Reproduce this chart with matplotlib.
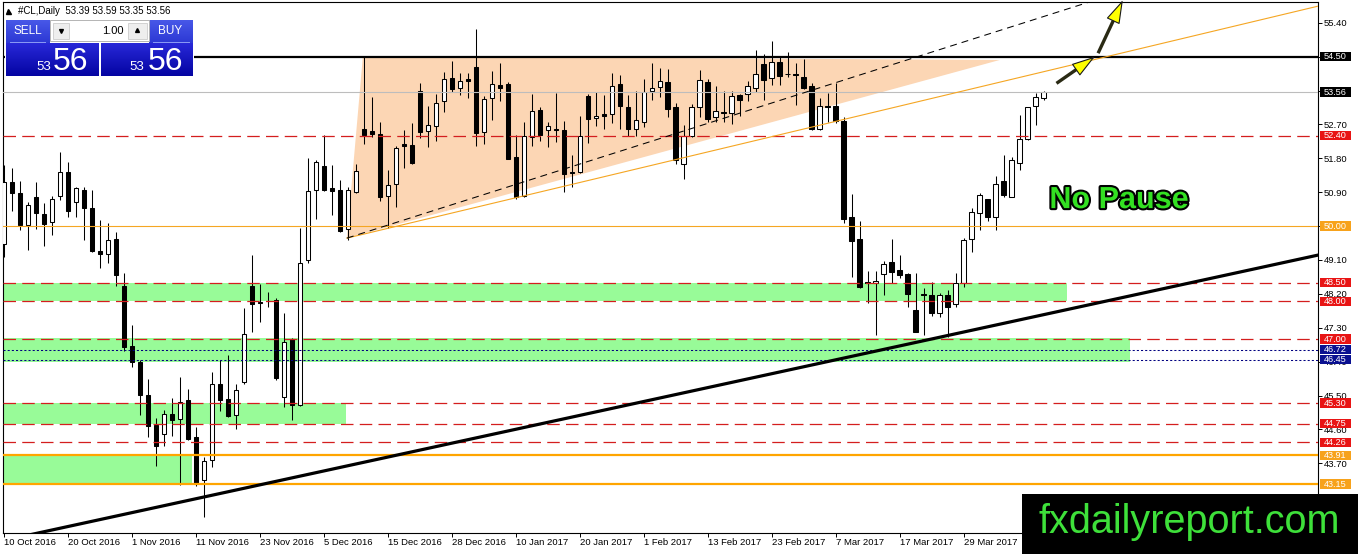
import matplotlib
matplotlib.use("Agg")
import matplotlib.pyplot as plt
import numpy as np
from matplotlib.patches import Rectangle, Polygon
import matplotlib.transforms as mtransforms
import matplotlib.patheffects as pe
from matplotlib.colors import LinearSegmentedColormap

plt.rcParams['font.family'] = ['Liberation Sans', 'DejaVu Sans']
plt.rcParams['lines.scale_dashes'] = False

# ---------------- data ----------------
symbol = "#CL,Daily"

opens = [49.52, 51.16, 50.89, 50.03, 50.77, 50.32, 50.10, 50.81, 51.43, 50.65,
         50.96, 50.47, 49.34, 49.25, 49.66, 48.41, 46.82, 46.38, 45.52, 44.71,
         44.48, 45.01, 44.87, 45.37, 44.40, 43.26, 43.79, 45.80, 45.40, 44.99,
         45.87, 48.41, 47.98, 48.02, 48.04, 45.47, 47.01, 45.25, 49.09, 50.96,
         51.60, 51.01, 50.96, 49.91, 50.91, 52.59, 52.52, 52.44, 50.81, 51.11,
         52.17, 52.15, 53.58, 52.53, 52.66, 53.32, 53.92, 53.66, 53.90, 54.23,
         52.51, 53.39, 53.74, 53.76, 51.84, 50.81, 52.37, 53.08, 52.55, 52.56,
         52.55, 51.43, 51.44, 53.45, 52.86, 52.97, 52.97, 53.76, 53.15, 52.59,
         52.77, 53.59, 53.68, 53.82, 53.15, 51.66, 52.39, 53.15, 53.83, 52.90,
         53.02, 53.01, 53.48, 53.50, 53.66, 54.30, 53.92, 54.35, 54.05, 54.04,
         53.95, 53.72, 52.59, 53.20, 53.19, 52.80, 50.23, 49.65, 48.50, 48.50,
         48.72, 49.05, 48.83, 48.73, 47.77, 48.19, 48.17, 47.68, 48.17, 47.92,
         48.50, 49.66, 50.34, 50.71, 50.23, 51.20, 50.78, 51.68, 52.30, 53.20,
         53.39]
highs = [51.63, 51.54, 51.19, 50.63, 51.17, 50.61, 50.80, 51.96, 51.71, 51.05,
         51.05, 50.96, 50.15, 50.08, 49.84, 48.75, 47.38, 46.45, 45.94, 44.90,
         45.12, 45.43, 45.99, 45.67, 44.66, 43.88, 46.12, 46.45, 46.58, 45.80,
         47.82, 49.24, 48.46, 48.26, 48.09, 47.70, 47.02, 49.94, 51.80, 51.76,
         52.42, 51.63, 51.23, 51.05, 51.66, 54.51, 53.42, 52.77, 51.49, 52.12,
         52.55, 52.74, 53.81, 53.19, 53.51, 54.10, 54.38, 54.07, 54.07, 55.22,
         53.45, 54.12, 54.32, 53.83, 52.42, 52.77, 53.51, 53.15, 52.77, 53.54,
         52.80, 51.89, 52.92, 53.51, 53.57, 53.48, 54.07, 54.01, 53.48, 53.59,
         53.90, 54.34, 54.21, 54.16, 53.26, 52.68, 53.23, 54.14, 53.90, 53.72,
         53.59, 53.59, 53.51, 53.86, 54.67, 54.58, 54.92, 54.48, 54.61, 54.34,
         54.43, 53.81, 53.39, 53.54, 53.79, 52.90, 50.85, 50.14, 48.82, 48.81,
         49.06, 49.66, 49.23, 48.75, 48.76, 48.35, 48.52, 48.22, 48.30, 48.75,
         49.68, 50.47, 50.89, 50.71, 51.33, 51.89, 51.83, 52.95, 53.15, 53.53,
         53.59]
lows = [49.17, 50.41, 49.90, 49.37, 49.92, 49.48, 49.77, 50.70, 50.25, 50.23,
        49.64, 49.30, 48.90, 49.03, 48.42, 46.67, 46.25, 44.99, 44.41, 43.62,
        44.15, 44.43, 43.13, 44.32, 43.10, 42.27, 43.59, 45.08, 44.92, 44.61,
        45.80, 47.20, 47.44, 47.85, 45.92, 45.19, 44.86, 45.23, 49.01, 50.18,
        50.94, 50.30, 49.83, 49.63, 50.87, 52.18, 52.36, 50.67, 49.94, 50.51,
        51.53, 51.66, 52.33, 52.09, 52.27, 53.04, 53.57, 53.48, 53.41, 52.12,
        52.17, 52.82, 53.33, 51.77, 50.71, 50.78, 52.12, 52.27, 52.11, 52.24,
        50.91, 51.05, 51.42, 52.21, 52.66, 52.57, 52.73, 52.59, 52.39, 52.39,
        52.64, 53.36, 53.42, 52.90, 51.65, 51.24, 52.37, 52.90, 52.77, 52.77,
        52.77, 52.70, 52.92, 53.33, 53.57, 53.36, 53.74, 53.74, 53.95, 53.21,
        53.63, 52.55, 52.55, 52.77, 52.73, 50.07, 48.64, 48.35, 47.95, 47.11,
        48.17, 48.50, 48.61, 47.86, 47.20, 47.11, 47.60, 47.58, 47.06, 47.84,
        48.39, 49.30, 49.90, 50.14, 49.90, 50.76, 50.78, 51.49, 52.29, 52.68,
        53.35]
closes = [51.16, 50.87, 50.03, 50.56, 50.34, 50.06, 50.71, 51.43, 50.39, 51.01,
          50.49, 49.33, 49.25, 49.64, 48.69, 46.80, 46.38, 45.52, 44.68, 44.15,
          45.01, 44.86, 45.34, 44.34, 43.16, 43.75, 45.80, 45.39, 44.96, 45.65,
          47.13, 47.93, 47.95, 48.00, 45.96, 46.91, 45.25, 49.01, 50.94, 51.70,
          50.96, 50.92, 49.86, 50.97, 51.47, 52.42, 52.44, 50.78, 51.09, 52.06,
          52.13, 51.68, 52.51, 52.68, 53.26, 53.90, 53.64, 53.85, 53.86, 52.48,
          53.37, 53.77, 53.67, 51.77, 50.78, 52.39, 53.05, 52.42, 52.66, 52.55,
          51.38, 51.40, 52.39, 52.83, 52.93, 52.93, 53.72, 53.19, 52.57, 52.81,
          53.55, 53.66, 53.86, 53.10, 51.75, 52.39, 53.15, 53.88, 52.83, 53.05,
          52.99, 53.46, 53.35, 53.72, 54.04, 53.88, 54.36, 53.99, 54.03, 54.01,
          53.66, 52.59, 53.20, 53.17, 52.79, 50.20, 49.61, 48.37, 48.49, 48.54,
          49.00, 48.79, 48.70, 48.19, 47.20, 48.16, 47.70, 48.17, 47.86, 48.48,
          49.63, 50.37, 50.83, 50.25, 51.12, 50.83, 51.75, 52.30, 53.15, 53.42,
          53.56]

date_labels = ["10 Oct 2016", "20 Oct 2016", "1 Nov 2016", "11 Nov 2016",
               "23 Nov 2016", "5 Dec 2016", "15 Dec 2016", "28 Dec 2016",
               "10 Jan 2017", "20 Jan 2017", "1 Feb 2017", "13 Feb 2017",
               "23 Feb 2017", "7 Mar 2017", "17 Mar 2017", "29 Mar 2017"]
date_tick_idx = [0, 8, 16, 24, 32, 40, 48, 56, 64, 72, 80, 88, 96, 104, 112, 120]

price_ticks = [55.40, 54.50, 53.60, 52.70, 51.80, 50.90, 50.00, 49.10, 48.20,
               47.30, 46.40, 45.50, 44.60, 43.70, 42.80]

resistance_level = 54.50
red_levels = [52.40, 48.50, 48.00, 47.00, 45.30, 44.75, 44.26]
orange_thin_levels = [50.00]
orange_thick_levels = [43.91, 43.15]
blue_levels = [46.72, 46.45]

# green zones: right end (bar index), top, bottom
zone_ends = [132.9, 140.8, 42.8, 23.5]
zone_tops = [48.50, 47.02, 45.30, 43.91]
zone_bottoms = [48.00, 46.40, 44.75, 43.15]

# triangle (bar index, price)
tri_idx = [42.9, 44.9, 124.5]
tri_px = [49.68, 54.51, 54.41]

# trend lines: two anchor points each
support_idx = [4.3, 164.3]
support_px = [41.85, 49.23]
lower_idx = [42.9, 164.3]
lower_px = [49.68, 55.84]
upper_idx = [42.9, 135.7]
upper_px = [49.68, 55.95]

# arrows (tail -> tip)
arrow_tail_idx = [131.6, 136.8]
arrow_tail_px = [53.79, 54.59]
arrow_tip_idx = [136.4, 139.9]
arrow_tip_px = [54.50, 56.00]

note_text = "No Pause"
note_idx, note_px = 139.4, 50.69

# ---------------- figure ----------------
W, H = 1358, 554
fig = plt.figure(figsize=(W / 100, H / 100), dpi=100)
fig.patch.set_facecolor('white')
ax = fig.add_axes([3 / W, (H - 533) / H, 1315 / W, 531 / H])
ax.set_facecolor('white')
ax.set_xlim(-0.09, 164.29)
ax.set_ylim(41.85, 55.95)
for s in ax.spines.values():
    s.set_linewidth(0.8)
    s.set_color('black')

GREEN = '#98FB98'
PEACH = '#FCD6B4'
RED = '#D41E1E'
ORANGE = '#F5A623'
NAVY = '#000080'

# zones
for xe, top, bot in zip(zone_ends, zone_tops, zone_bottoms):
    ax.add_patch(Rectangle((-1, bot), xe + 1, top - bot, facecolor=GREEN,
                           edgecolor='none', zorder=1))

# triangle
ax.add_patch(Polygon(list(zip(tri_idx, tri_px)), closed=True, facecolor=PEACH,
                     edgecolor='none', zorder=1.5))

# candles
o = np.array(opens); h = np.array(highs); l = np.array(lows); c = np.array(closes)
x = np.arange(len(o))
ax.vlines(x, l, h, color='black', lw=0.75, zorder=4)
bottoms = np.minimum(o, c)
heights = np.maximum(np.abs(c - o), 0.015)
cols = np.where(c >= o, 'white', 'black')
ax.bar(x, heights, bottom=bottoms, width=0.55, color=cols, edgecolor='black',
       linewidth=0.75, zorder=5)

# horizontal levels
ax.axhline(closes[-1], color='#BDBDBD', lw=0.8, zorder=6)
ax.axhline(resistance_level, color='black', lw=1.6, zorder=6)
for lv in red_levels:
    ax.axhline(lv, color=RED, lw=0.9, linestyle=(0, (9, 4.5)), zorder=6)
for lv in orange_thin_levels:
    ax.axhline(lv, color=ORANGE, lw=0.8, zorder=6)
for lv in orange_thick_levels:
    ax.axhline(lv, color='#FFA500', lw=1.6, zorder=6)
for lv in blue_levels:
    ax.axhline(lv, color=NAVY, lw=0.75, linestyle=(0, (1.5, 1.5)), zorder=6)


def ray(xs, ys, x_start, x_end):
    slope = (ys[1] - ys[0]) / (xs[1] - xs[0])
    return [x_start, x_end], [ys[0] + slope * (x_start - xs[0]),
                              ys[0] + slope * (x_end - xs[0])]


rx, ry = ray(support_idx, support_px, -2, 170)
ax.plot(rx, ry, color='black', lw=2.3, zorder=7, solid_capstyle='butt')
rx, ry = ray(lower_idx, lower_px, lower_idx[0], 170)
ax.plot(rx, ry, color=ORANGE, lw=0.8, zorder=7)
rx, ry = ray(upper_idx, upper_px, upper_idx[0], 170)
ax.plot(rx, ry, color='black', lw=0.75, linestyle=(0, (5, 3.6)), zorder=7)

# arrows
for tx, ty, hx, hy in zip(arrow_tail_idx, arrow_tail_px, arrow_tip_idx, arrow_tip_px):
    fx = tx + 0.68 * (hx - tx)
    fy = ty + 0.68 * (hy - ty)
    ax.plot([tx, fx], [ty, fy], color='#2A2A14', lw=2.4, zorder=8,
            solid_capstyle='butt', clip_on=False)
    ax.annotate('', xy=(hx, hy), xytext=(fx - 0.02 * (hx - tx), fy - 0.02 * (hy - ty)),
                arrowprops=dict(arrowstyle='-|>,head_length=1.5,head_width=0.46',
                                lw=0.8, edgecolor='#1A1A1A', facecolor='#FFFF00',
                                shrinkA=0, shrinkB=0),
                annotation_clip=False, zorder=9)

# note text
ax.text(note_idx, note_px, note_text, ha='center', va='center', fontsize=22,
        fontweight='bold', color='#33E022', zorder=10,
        path_effects=[pe.withStroke(linewidth=3, foreground='black')])

# axes ticks
ax.yaxis.tick_right()
ax.set_yticks(price_ticks)
ax.set_yticklabels([f"{p:.2f}" for p in price_ticks])
ax.tick_params(axis='y', direction='out', length=3, width=0.7, pad=1.2,
               labelsize=6.8, colors='black')
ax.set_xticks(date_tick_idx)
ax.set_xticklabels(date_labels, ha='left')
ax.tick_params(axis='x', direction='out', length=3, width=0.7, pad=0.8,
               labelsize=6.8, colors='black')
for lab in ax.get_xticklabels():
    lab.set_horizontalalignment('left')

# right-side price boxes
trans = mtransforms.blended_transform_factory(ax.transAxes, ax.transData)
bw = 31 / 1315
bx = 1 + 2 / 1315
bh = 9.3 / 37.67
boxes = [(resistance_level, 'black'), (closes[-1], 'black')]
boxes += [(lv, '#E81414') for lv in red_levels]
boxes += [(lv, '#F7A21B') for lv in orange_thin_levels + orange_thick_levels]
boxes += [(lv, '#0A1090') for lv in blue_levels]
for val, col in boxes:
    ax.add_patch(Rectangle((bx, val - bh / 2), bw, bh, transform=trans,
                           facecolor=col, edgecolor='none', clip_on=False, zorder=20))
    ax.text(bx + bw / 2, val, f"{val:.2f}", transform=trans, ha='center',
            va='center', color='white', fontsize=6.6, zorder=21, clip_on=False)

# ---------------- overlay: title, trade panel, watermark ----------------
ov = fig.add_axes([0, 0, 1, 1], zorder=10)
ov.set_xlim(0, W)
ov.set_ylim(H, 0)
ov.axis('off')
ov.patch.set_alpha(0)


def grad(x0, y0, x1, y1, ctop, cbot):
    cmap = LinearSegmentedColormap.from_list('g', [ctop, cbot])
    arr = np.linspace(0, 1, 64).reshape(-1, 1)
    ov.imshow(arr, cmap=cmap, extent=(x0, x1, y1, y0), aspect='auto',
              interpolation='bilinear', zorder=2)


title_vals = f"{opens[-1]:.2f} {highs[-1]:.2f} {lows[-1]:.2f} {closes[-1]:.2f}"
ov.plot([8.3], [11.2], marker='^', ms=3.6, color='black', zorder=3)
ov.text(18, 11.2, f"{symbol}  {title_vals}", ha='left', va='center',
        fontsize=7, color='black', zorder=3)

ov.add_patch(Rectangle((5, 19), 189, 58, facecolor='white', edgecolor='none', zorder=1))
# SELL
grad(6, 20, 50, 43, '#4858E8', '#2C38D4')
grad(6, 43, 99, 76, '#2828D8', '#0404A2')
# BUY
grad(149, 20, 193, 43, '#4858E8', '#2C38D4')
grad(101, 43, 193, 76, '#2828D8', '#0404A2')
ov.plot([10, 45], [41.8, 41.8], color='#8C9CF6', lw=0.7, zorder=3)
ov.plot([153, 189], [41.8, 41.8], color='#8C9CF6', lw=0.7, zorder=3)
ov.text(27.5, 31, "SELL", ha='center', va='center', fontsize=8.5, color='white', zorder=3)
ov.text(170.5, 31, "BUY", ha='center', va='center', fontsize=8.5, color='white', zorder=3)

# lot spinner
ov.add_patch(Rectangle((50, 20), 98.5, 20.5, facecolor='white', edgecolor='#B4B4B4',
                       lw=0.7, zorder=3))
ov.add_patch(Rectangle((53, 22.5), 16, 16, facecolor='#EEEEEE', edgecolor='#CCCCCC',
                       lw=0.6, zorder=4))
ov.add_patch(Rectangle((128, 22.5), 18.5, 16, facecolor='#EEEEEE', edgecolor='#CCCCCC',
                       lw=0.6, zorder=4))
ov.plot([61], [30.5], marker='v', ms=2.8, color='black', zorder=5)
ov.plot([137.3], [30], marker='^', ms=2.8, color='black', zorder=5)
ov.text(124, 30.5, "1.00", ha='right', va='center', fontsize=8, color='black', zorder=5)

bid_str = f"{closes[-1]:.2f}"
big, small = bid_str[-2:], bid_str[:2]
for sx, bxp in [(36, 53), (129, 148)]:
    ov.text(sx, 70, small, ha='left', va='baseline', fontsize=9.5, color='white', zorder=3)
    ov.text(bxp, 70.5, big, ha='left', va='baseline', fontsize=23, color='white', zorder=3)

# watermark
ov.add_patch(Rectangle((1022, 494), 336, 60, facecolor='black', edgecolor='none', zorder=3))
ov.text(1189, 522, "fxdailyreport.com", ha='center', va='center', fontsize=28.5,
        color='#3EE03A', zorder=4)
ov.set_xlim(0, W)
ov.set_ylim(H, 0)

fig.savefig("out.png", dpi=100, facecolor='white')
